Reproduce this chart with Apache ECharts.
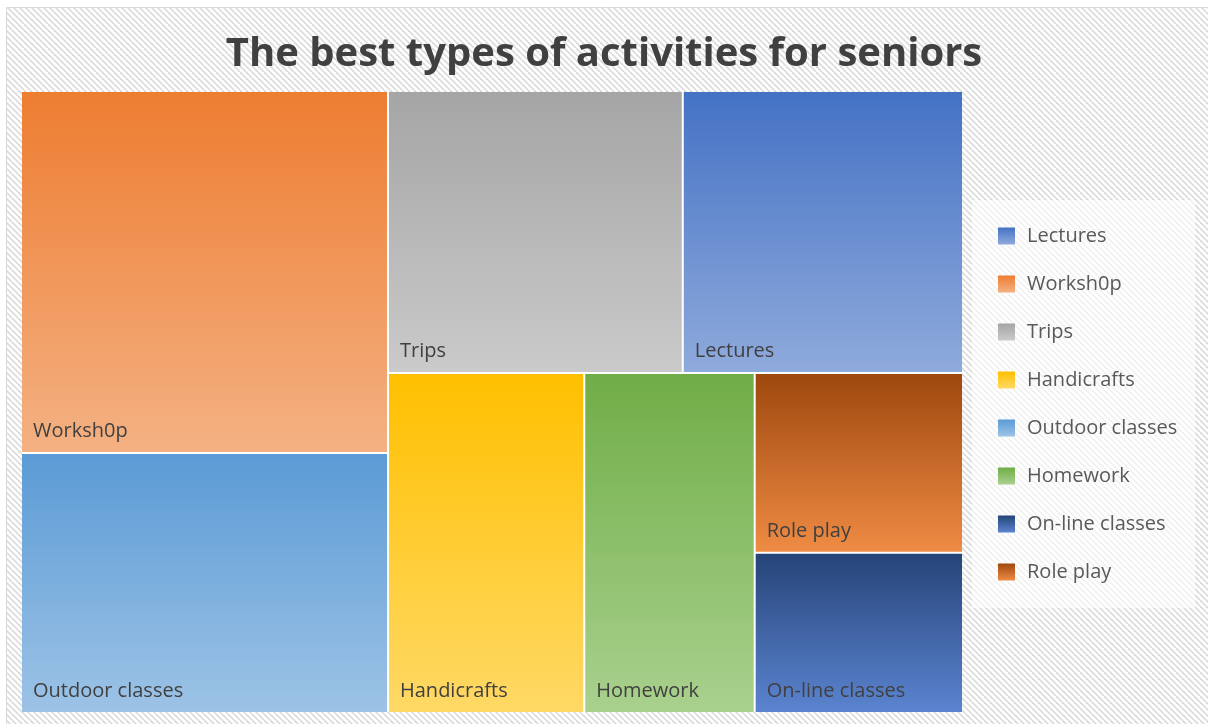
<!DOCTYPE html>
<html>
<head>
<meta charset="utf-8">
<title>The best types of activities for seniors</title>
<script src="https://cdn.jsdelivr.net/npm/echarts@6/dist/echarts.min.js"></script>
<style>
  html, body { margin: 0; padding: 0; background: #ffffff; }
  #chart { width: 1208px; height: 724px; }
</style>
</head>
<body>
<div id="chart"></div>
<script>
// Activity categories and their scores
const activities = ['Workshop', 'Outdoor classes', 'Trips', 'Lectures', 'Handicrafts', 'Homework', 'Role play', 'On-line classes'];
const labels = ['Worksh0p', 'Outdoor classes', 'Trips', 'Lectures', 'Handicrafts', 'Homework', 'Role play', 'On-line classes'];
const scores = [22.7, 16.3, 14.2, 13.5, 11.4, 9.9, 6.4, 5.7];
// Gradient colours per activity, top then bottom
const topColors = ['#ED7D31', '#5B9BD5', '#A5A5A5', '#4472C4', '#FFC000', '#70AD47', '#9E480E', '#264478'];
const bottomColors = ['#F4B183', '#9DC3E6', '#CACACA', '#8FAADC', '#FFD966', '#A9D18E', '#EF8B44', '#5B84D0'];
// Order of entries in the legend
const legendOrder = ['Lectures', 'Worksh0p', 'Trips', 'Handicrafts', 'Outdoor classes', 'Homework', 'On-line classes', 'Role play'];

const fontFamily = '"Open Sans", "Liberation Sans", sans-serif';

function fillFor(i) {
  return new echarts.graphic.LinearGradient(0, 0, 0, 1, [
    { offset: 0, color: topColors[i] },
    { offset: 1, color: bottomColors[i] }
  ]);
}

// Diagonal hatch tile for the chart background
function hatchTile() {
  const s = 6;
  const c = document.createElement('canvas');
  c.width = s; c.height = s;
  const g = c.getContext('2d');
  g.fillStyle = '#ffffff';
  g.fillRect(0, 0, s, s);
  g.strokeStyle = '#dcdcdc';
  g.lineWidth = 1.8;
  for (let k = -1; k <= 1; k++) {
    g.beginPath();
    g.moveTo(0, k * s);
    g.lineTo(s, s + k * s);
    g.stroke();
  }
  return c;
}

const treeData = activities.map((a, i) => ({
  name: labels[i],
  value: scores[i],
  itemStyle: { color: fillFor(i) }
}));

const legendData = legendOrder.map(n => ({ name: n }));

const chart = echarts.init(document.getElementById('chart'), null, { renderer: 'canvas' });

chart.setOption({
  animation: false,
  graphic: [{
    type: 'rect',
    z: -10,
    silent: true,
    shape: { x: 6.5, y: 7.5, width: 1230, height: 740 },
    style: {
      fill: { image: hatchTile(), repeat: 'repeat' },
      stroke: '#d9d9d9',
      lineWidth: 1
    }
  }],
  title: {
    text: 'The best types of activities for seniors',
    left: 'center',
    top: 30,
    textStyle: {
      fontFamily: fontFamily,
      fontSize: 40,
      fontWeight: 'bold',
      color: '#404040'
    }
  },
  legend: {
    orient: 'vertical',
    left: 972,
    top: 200,
    width: 223,
    padding: [26, 18, 26, 26],
    backgroundColor: 'rgba(255,255,255,0.6)',
    itemWidth: 17,
    itemHeight: 17,
    itemGap: 28,
    selectedMode: false,
    icon: 'rect',
    data: legendData,
    textStyle: {
      fontFamily: fontFamily,
      fontSize: 20,
      lineHeight: 20,
      color: '#595959',
      padding: [0, 0, 0, 7]
    }
  },
  series: [
    {
      type: 'treemap',
      left: 22,
      top: 92,
      width: 940,
      height: 620,
      roam: false,
      nodeClick: false,
      sort: 'desc',
      squareRatio: 1,
      breadcrumb: { show: false },
      levels: [{
        itemStyle: { borderWidth: 0, gapWidth: 2, borderColor: '#ffffff' }
      }],
      label: {
        show: true,
        position: 'insideBottomLeft',
        distance: 6,
        formatter: '{b}',
        fontFamily: fontFamily,
        fontSize: 20,
        color: '#404040'
      },
      data: treeData
    },
    {
      // Zero-size pie that only feeds the legend entries and their swatches
      type: 'pie',
      radius: [0, 0],
      center: [-100, -100],
      silent: true,
      label: { show: false },
      labelLine: { show: false },
      data: labels.map((n, i) => ({ name: n, value: scores[i], itemStyle: { color: fillFor(i) } }))
    }
  ]
});
</script>
</body>
</html>
